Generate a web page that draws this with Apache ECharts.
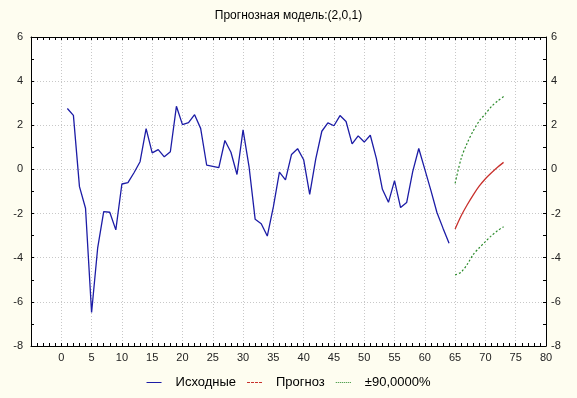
<!DOCTYPE html>
<html>
<head>
<meta charset="utf-8">
<script src="https://cdn.jsdelivr.net/npm/echarts@6/dist/echarts.min.js"></script>
<style>
  html, body { margin: 0; padding: 0; background: #fefdf0; }
  #chart { width: 577px; height: 398px; }
</style>
</head>
<body>
<div id="chart"></div>
<script>
// original series
const origX = [1, 2, 3, 4, 5, 6, 7, 8, 9, 10, 11, 12, 13, 14, 15, 16, 17, 18, 19, 20,
  21, 22, 23, 24, 25, 26, 27, 28, 29, 30, 31, 32, 33, 34, 35, 36, 37, 38, 39, 40,
  41, 42, 43, 44, 45, 46, 47, 48, 49, 50, 51, 52, 53, 54, 55, 56, 57, 58, 59, 60,
  61, 62, 63, 64]
const origY = [2.76, 2.45, -0.78, -1.76, -6.48, -3.57, -1.91, -1.94, -2.74, -0.66,
  -0.6, -0.15, 0.35, 1.85, 0.75, 0.9, 0.57, 0.8, 2.86, 2.03,
  2.12, 2.48, 1.86, 0.19, 0.14, 0.08, 1.31, 0.78, -0.23, 1.79,
  0.1, -2.26, -2.46, -3.02, -1.7, -0.12, -0.47, 0.68, 0.94, 0.44,
  -1.13, 0.48, 1.73, 2.11, 1.98, 2.44, 2.17, 1.16, 1.52, 1.24,
  1.55, 0.5, -0.9, -1.49, -0.51, -1.73, -1.5, -0.1, 0.95, 0.0,
  -0.95, -1.95, -2.66, -3.34]

// forecast + 90% band
const fcX = [65, 66, 67, 68, 69, 70, 71, 72, 73]
const fcY = [-2.7, -2.1, -1.6, -1.15, -0.75, -0.42, -0.15, 0.1, 0.32]
const upperY = [-0.63, 0.5, 1.2, 1.75, 2.2, 2.52, 2.85, 3.1, 3.3]
const lowerY = [-4.78, -4.65, -4.3, -3.85, -3.55, -3.27, -3.0, -2.78, -2.6]

const xTicks = { min: -5, max: 80, interval: 5 }
const yTicks = { min: -8, max: 6, interval: 2 }

const pairs = (xs, ys) => xs.map((x, i) => [x, ys[i]])

const font = 'Liberation Sans, Arial, sans-serif'
const blue = '#1c1ca6'
const red = '#c8302c'
const green = '#2a8a2a'

// legend icons: little line samples (solid / dashed / dotted)
const iconSolid = 'path://M0,0H15V1H0Z'
const iconDashed = 'path://M0,0H3V1H0Z M4,0H7V1H4Z M8,0H11V1H8Z M12,0H15V1H12Z'
const iconDotted = 'path://M0,0H1V1H0Z M2,0H3V1H2Z M4,0H5V1H4Z M6,0H7V1H6Z M8,0H9V1H8Z M10,0H11V1H10Z M12,0H13V1H12Z M14,0H15V1H14Z'

const chart = echarts.init(document.getElementById('chart'), null, { renderer: 'canvas' })

const gridLine = { show: true, lineStyle: { color: '#c8c8c8', type: [1, 2], width: 1 } }
const axisLine = { show: true, onZero: false, lineStyle: { color: '#000', width: 1 } }
const tick = { show: true, inside: true, length: 3, lineStyle: { color: '#000' } }

const option = {
  backgroundColor: '#fefdf0',
  animation: false,
  title: {
    text: 'Прогнозная модель:(2,0,1)',
    left: 'center',
    top: 5,
    textStyle: { fontFamily: font, fontSize: 12, fontWeight: 'normal', color: '#000' }
  },
  grid: {
    left: 31, right: 31, top: 37, bottom: 52,
    show: true, backgroundColor: '#ffffff', borderWidth: 0
  },
  legend: {
    top: 371,
    left: 'center',
    itemWidth: 15,
    itemHeight: 1,
    itemGap: 11,
    symbolKeepAspect: false,
    textStyle: { fontFamily: font, fontSize: 13, color: '#000', padding: [0, 0, 0, 9] },
    data: [
      { name: 'Исходные', icon: iconSolid, itemStyle: { color: blue } },
      { name: 'Прогноз', icon: iconDashed, itemStyle: { color: red } },
      { name: '±90,0000%', icon: iconDotted, itemStyle: { color: green } }
    ]
  },
  xAxis: [
    {
      type: 'value', position: 'bottom',
      min: xTicks.min, max: xTicks.max, interval: xTicks.interval,
      axisLine: axisLine,
      axisTick: tick,
      minorTick: { show: true, splitNumber: 5, length: 3, lineStyle: { color: '#000' } },
      splitLine: gridLine,
      axisLabel: {
        fontFamily: font, fontSize: 11, color: '#222', margin: 6,
        formatter: v => (v === xTicks.min ? '' : String(v))
      }
    },
    {
      type: 'value', position: 'top',
      min: xTicks.min, max: xTicks.max, interval: xTicks.interval,
      axisLine: axisLine,
      axisTick: tick,
      minorTick: { show: true, splitNumber: 5, length: 3, lineStyle: { color: '#000' } },
      splitLine: { show: false },
      axisLabel: { show: false }
    }
  ],
  yAxis: [
    {
      type: 'value', position: 'left',
      min: yTicks.min, max: yTicks.max, interval: yTicks.interval,
      axisLine: axisLine,
      axisTick: tick,
      minorTick: { show: true, splitNumber: 2, length: 3, lineStyle: { color: '#000' } },
      splitLine: gridLine,
      axisLabel: { fontFamily: font, fontSize: 11, color: '#222', margin: 8 }
    },
    {
      type: 'value', position: 'right',
      min: yTicks.min, max: yTicks.max, interval: yTicks.interval,
      axisLine: axisLine,
      axisTick: tick,
      minorTick: { show: true, splitNumber: 2, length: 3, lineStyle: { color: '#000' } },
      splitLine: { show: false },
      axisLabel: { fontFamily: font, fontSize: 11, color: '#222', margin: 5 }
    }
  ],
  series: [
    {
      name: 'Исходные', type: 'line', data: pairs(origX, origY),
      showSymbol: false, symbol: 'none',
      lineStyle: { color: blue, width: 1.3 }, itemStyle: { color: blue }
    },
    {
      name: 'Прогноз', type: 'line', data: pairs(fcX, fcY),
      showSymbol: false, symbol: 'none', smooth: 0.3,
      lineStyle: { color: red, width: 1.3 }, itemStyle: { color: red }
    },
    {
      name: '±90,0000%', type: 'line', data: pairs(fcX, upperY),
      showSymbol: false, symbol: 'none', smooth: 0.3,
      lineStyle: { color: green, width: 1.2, type: [2, 2] }, itemStyle: { color: green }
    },
    {
      name: '±90,0000%', type: 'line', data: pairs(fcX, lowerY),
      showSymbol: false, symbol: 'none', smooth: 0.3,
      lineStyle: { color: green, width: 1.2, type: [2, 2] }, itemStyle: { color: green }
    }
  ]
}

chart.setOption(option)
</script>
</body>
</html>
